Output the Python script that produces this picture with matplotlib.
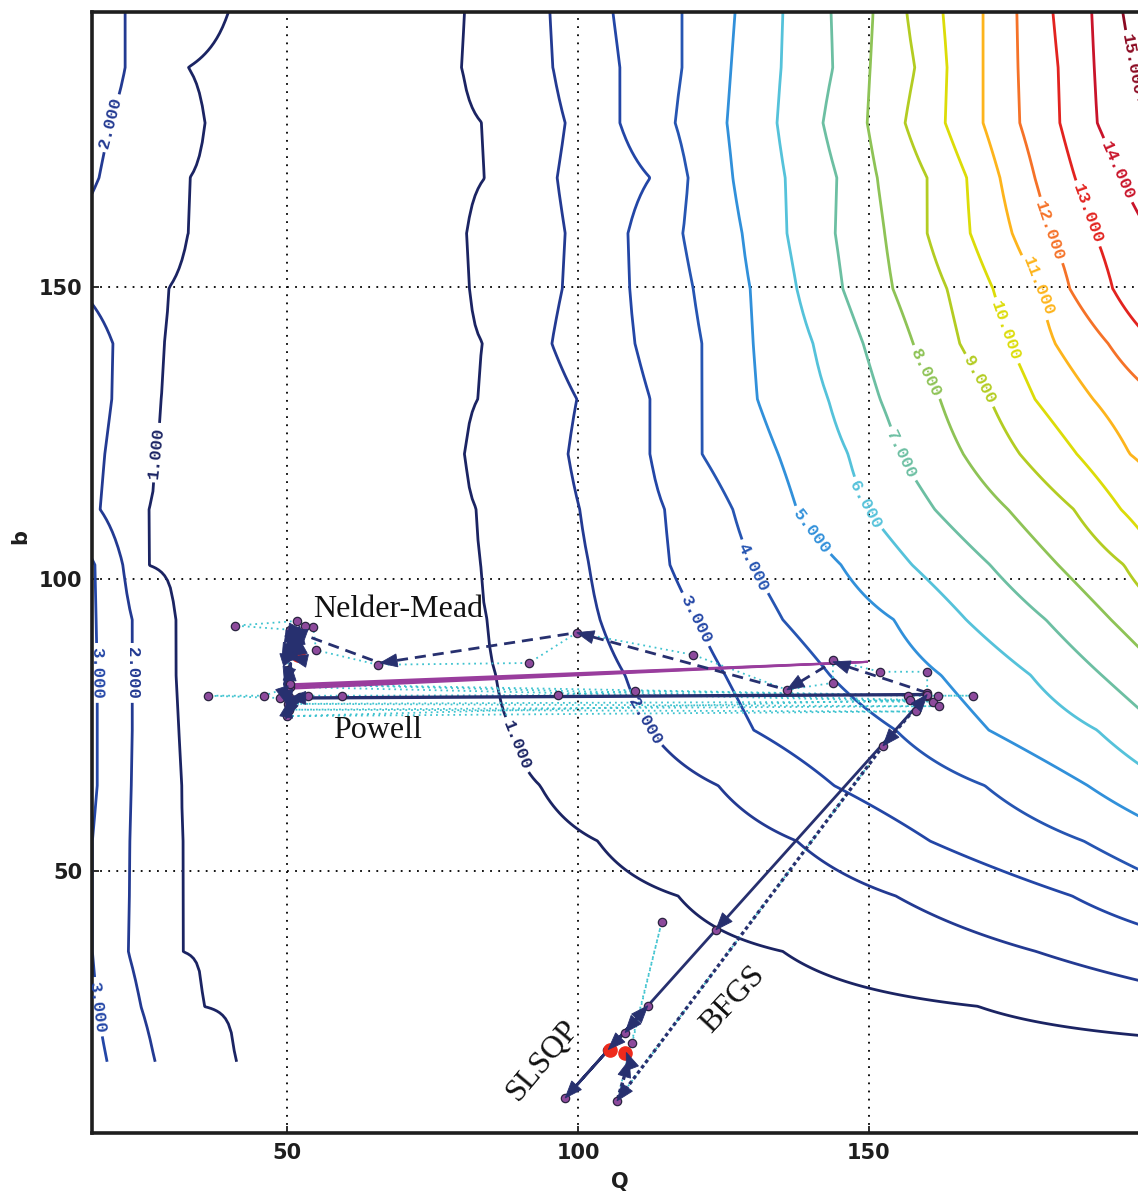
import numpy as np
import matplotlib
matplotlib.use("Agg")
import matplotlib.pyplot as plt
from matplotlib.patches import Polygon

nan = np.nan

# ---------------------------------------------------------------------------
# Objective surface, stored row by row: for each b row, the Q position where
# the surface crosses each contour level (nan = level not reached in view),
# plus the surface value at the left (Q=16.5) and right (Q=200) borders.
# ---------------------------------------------------------------------------
b_rows = [17.3, 26.8, 36.2, 45.7, 55.1, 64.6, 74.1, 83.5, 93.0, 102.4,
          111.9, 121.4, 130.8, 140.3, 149.7, 159.2, 168.7, 178.1, 187.6, 197.0]

q_border = [16.5, 200.0]
z_left = [3.3, 3.15, 3.01, 3.01, 3.01, 3.15, 3.15, 3.15, 3.12, 3.1,
          2.17, 2.26, 2.4, 2.4, 1.85, 1.8, 2.08, 2.2, 2.5, 2.3]
z_right = [0.5, 1.63, 2.6, 3.7, 4.7, 5.85, 6.95, 7.9, 8.75, 9.9,
           10.75, 11.35, 11.98, 13.1, 14.4, 14.2, 14.8, 15.3, 15.8, 16.0]
z_valley = 0.4

# low-Q flank (levels 3, 2, 1)
q_left_3 = [19.1, 17.4, 16.55, 16.55, 16.55, 17.4, 17.4, 17.4, 17.2, 17.0,
            nan, nan, nan, nan, nan, nan, nan, nan, nan, nan]
q_left_2 = [27.3, 24.9, 22.7, 22.9, 23.0, 23.2, 23.4, 23.4, 23.4, 21.8,
            17.9, 18.7, 19.9, 20.1, nan, nan, 17.7, 19.6, 22.2, 22.2]
q_left_1 = [41.1, 35.6, 32.0, 32.0, 32.0, 31.8, 31.3, 30.9, 30.8, 26.1,
            26.1, 27.3, 28.2, 28.9, 29.6, 33.0, 33.3, 35.9, 33.0, 39.9]

# high-Q flank (levels 1 .. 15)
q_right_1 = [nan, 168.7, 135.2, 117.2, 103.4, 93.5, 88.7, 85.9, 84.4, 83.3,
             82.6, 80.6, 82.8, 83.7, 81.4, 80.9, 84.0, 83.5, 80.1, 80.6]
q_right_2 = [nan, nan, 178.7, 154.6, 137.6, 124.1, 112.4, 108.1, 103.8, 101.9,
             100.3, 98.3, 99.8, 95.5, 97.3, 97.8, 96.4, 97.8, 95.7, 95.2]
q_right_3 = [nan, nan, nan, 184.9, 160.5, 144.0, 130.2, 125.3, 120.4, 115.8,
             114.9, 112.4, 112.4, 109.8, 108.9, 108.6, 112.4, 107.2, 107.2, 106.0]
q_right_4 = [nan, nan, nan, nan, 186.9, 169.9, 154.6, 143.3, 135.2, 129.9,
             126.6, 121.3, 121.3, 121.3, 119.8, 118.0, 118.9, 116.7, 117.9, 117.9]
q_right_5 = [nan, nan, nan, nan, nan, 187.6, 170.6, 162.4, 154.3, 145.2,
             137.6, 134.4, 130.8, 130.1, 129.6, 128.2, 126.6, 125.6, 126.3, 127.0]
q_right_6 = [nan, nan, nan, nan, nan, nan, 189.2, 177.8, 166.7, 157.4,
             149.7, 146.4, 143.0, 140.4, 137.6, 135.9, 135.6, 134.2, 134.9, 135.2]
q_right_7 = [nan, nan, nan, nan, nan, nan, nan, 190.0, 180.4, 170.8,
             161.3, 155.3, 151.9, 149.0, 145.5, 144.2, 144.5, 142.1, 143.8, 143.5]
q_right_8 = [nan, nan, nan, nan, nan, nan, nan, nan, 191.6, 182.5,
             173.9, 166.2, 162.2, 157.6, 154.1, 152.7, 151.4, 149.7, 150.2, 150.7]
q_right_9 = [nan, nan, nan, nan, nan, nan, nan, nan, nan, 193.8,
             185.2, 175.9, 170.8, 165.6, 163.4, 160.0, 160.0, 156.2, 157.9, 156.5]
q_right_10 = [nan, nan, nan, nan, nan, nan, nan, nan, nan, nan,
              193.3, 185.7, 178.5, 174.2, 171.3, 167.4, 166.8, 163.1, 163.4, 162.7]
q_right_11 = [nan, nan, nan, nan, nan, nan, nan, nan, nan, nan,
              nan, 194.8, 188.5, 182.0, 179.4, 174.6, 172.5, 169.6, 169.6, 169.6]
q_right_12 = [nan, nan, nan, nan, nan, nan, nan, nan, nan, nan,
              nan, nan, nan, 191.1, 184.5, 181.1, 178.5, 175.9, 175.6, 175.4]
q_right_13 = [nan, nan, nan, nan, nan, nan, nan, nan, nan, nan,
              nan, nan, nan, nan, 191.9, 188.8, 185.4, 182.8, 182.5, 181.6]
q_right_14 = [nan, nan, nan, nan, nan, nan, nan, nan, nan, nan,
              nan, nan, nan, nan, nan, nan, 193.1, 189.2, 188.7, 188.3]
q_right_15 = [nan, nan, nan, nan, nan, nan, nan, nan, nan, nan,
              nan, nan, nan, nan, nan, nan, nan, nan, 195.2, 193.6]

levels = list(range(1, 16))
level_colors = ["#1b2463", "#233a92", "#2346a6", "#2655b2", "#3190da",
                "#55c2da", "#6cbfa2", "#8ec356", "#b3cc22", "#dcdc08",
                "#fdb41c", "#f57228", "#e2231f", "#c9142a", "#8b0a22"]

# contour label anchors (Q, b)
label_spots = [(27.8, 121.6), (89.5, 71.6),
               (19.1, 178.3), (23.5, 83.9), (112.4, 76.2),
               (17.4, 83.9), (17.4, 26.7), (120.1, 93.0),
               (130.1, 102.0), (140.4, 108.4), (149.3, 112.7),
               (155.3, 121.2), (158.8, 134.9), (169.1, 134.1),
               (175.1, 143.0), (179.4, 150.3), (181.6, 159.8),
               (189.3, 163.2), (192.8, 170.0), (194.0, 187.9)]

# ---------------------------------------------------------------------------
# Optimiser traces (Q, b)
# ---------------------------------------------------------------------------
nm_q = [160.0, 143.8, 135.9, 99.8, 66.0, 50.5, 53.2, 49.6, 52.6, 50.0, 53.0,
        49.8, 52.2, 50.4, 52.4, 50.6, 51.9]
nm_b = [80.5, 85.8, 81.0, 90.8, 85.6, 91.3, 91.0, 90.2, 89.8, 89.0, 88.9,
        88.0, 87.8, 86.8, 86.2, 86.6, 87.0]

powell_q = [160.0, 50.3, 50.6, 49.6, 50.6, 49.8, 50.4, 49.4, 50.0]
powell_b = [80.2, 79.6, 85.5, 82.0, 78.0, 76.0, 79.2, 80.5, 78.6]

bfgs_q = [157.8, 160.0, 152.4, 106.7, 108.8, 108.3]
bfgs_b = [77.6, 80.2, 71.4, 10.6, 17.6, 18.9]

slsqp_q = [160.0, 123.7, 97.8, 112.0, 108.1, 105.2]
slsqp_b = [80.2, 39.9, 11.1, 26.9, 22.3, 19.4]

# function evaluations
nm_eval_q = [160.0, 160.0, 151.9, 143.8, 143.8, 135.9, 119.8, 99.8, 91.6,
             65.6, 55.0, 54.5, 53.1, 51.7, 41.1, 50.5, 50.2]
nm_eval_b = [80.5, 84.1, 84.1, 86.1, 82.2, 81.0, 87.0, 90.8, 85.6,
             85.3, 87.8, 91.8, 92.0, 92.8, 92.0, 91.3, 84.4]

powell_eval_q = [160.0, 167.9, 156.7, 109.8, 96.6, 59.5, 53.6, 52.2, 50.3, 48.8,
                 36.4, 46.0, 50.6, 161.0, 50.2, 162.0, 50.4, 158.0, 50.0, 157.0, 50.5, 161.9]
powell_eval_b = [80.0, 80.0, 80.0, 80.8, 80.1, 80.0, 80.0, 79.8, 79.8, 79.6,
                 80.0, 80.0, 81.5, 79.0, 78.6, 78.2, 77.6, 77.3, 76.5, 79.3, 82.0, 80.0]

bfgs_eval_q = [160.0, 152.4, 106.7, 114.4, 109.3, 108.2]
bfgs_eval_b = [80.2, 71.4, 10.6, 41.3, 20.5, 18.9]

slsqp_eval_q = [123.7, 97.8, 112.0, 108.1, 105.0]
slsqp_eval_b = [39.9, 11.1, 26.9, 22.3, 19.4]

# direction-set lines
dir_start_q = [50.6, 50.6, 50.6, 50.6]
dir_start_b = [81.2, 81.45, 81.7, 81.95]
dir_end_q = [149.8, 149.8, 149.8, 149.8]
dir_end_b = [85.8, 85.8, 85.8, 85.8]

final_q = [51.9, 105.5, 108.1]
final_b = [87.0, 19.3, 18.8]

# ---------------------------------------------------------------------------
q_right = [q_right_1, q_right_2, q_right_3, q_right_4, q_right_5, q_right_6,
           q_right_7, q_right_8, q_right_9, q_right_10, q_right_11, q_right_12,
           q_right_13, q_right_14, q_right_15]
q_left = [(3, q_left_3), (2, q_left_2), (1, q_left_1)]

q_grid = np.linspace(q_border[0], q_border[1], 369)
Z = np.empty((len(b_rows), q_grid.size))
for k in range(len(b_rows)):
    kq, kz = [q_border[0]], [z_left[k]]
    for lvl, arr in q_left:
        if not np.isnan(arr[k]):
            kq.append(arr[k]); kz.append(lvl)
    first_right = q_right_1[k] if not np.isnan(q_right_1[k]) else q_border[1]
    kq.append(0.5 * (q_left_1[k] + first_right)); kz.append(z_valley)
    for lvl, arr in enumerate(q_right, start=1):
        if not np.isnan(arr[k]):
            kq.append(arr[k]); kz.append(lvl)
    kq.append(q_border[1]); kz.append(z_right[k])
    Z[k] = np.interp(q_grid, kq, kz)

# ---------------------------------------------------------------------------
W, H = 1138, 1195
fig = plt.figure(figsize=(W / 100, H / 100), dpi=100, facecolor="white")
ax = fig.add_axes([92 / W, (H - 1133) / H, (1160 - 92) / W, (1133 - 12) / H])
ax.set_xlim(16.5, 200.0)
ax.set_ylim(5.1, 197.1)

cs = ax.contour(q_grid, b_rows, Z, levels=levels, colors=level_colors,
                linewidths=2.0, zorder=2)
with plt.rc_context({"font.family": ["Liberation Mono", "DejaVu Sans Mono"],
                     "font.weight": "bold"}):
    cs.clabel(manual=label_spots, fmt="%1.3f", fontsize=12.5,
              inline=True, inline_spacing=4)

ax.set_xticks([50, 100, 150])
ax.set_yticks([50, 100, 150])
ax.grid(True, color="black", linestyle=(0, (1, 3.5)), linewidth=1.3, zorder=1)
ax.tick_params(direction="in", length=5, width=1.3, pad=7, labelsize=15,
               colors="#1e1e1e")
for t in ax.get_xticklabels() + ax.get_yticklabels():
    t.set_fontweight("bold")
for side in ("left", "bottom", "top"):
    ax.spines[side].set_linewidth(2.6)
    ax.spines[side].set_color("#1e1e1e")
ax.spines["right"].set_visible(False)

ax.set_xlabel("Q", fontsize=15, fontweight="bold", color="#1e1e1e")
ax.set_ylabel("b", fontsize=15, fontweight="bold", color="#1e1e1e")
ax.xaxis.set_label_coords((620 - 92) / 1068, (1133 - 1172) / 1121)
ax.yaxis.set_label_coords((30 - 92) / 1068, (1133 - 537) / 1121)

navy = "#27306f"
cyan = "#3fc3cf"
purple = "#8d4a9c"

# evaluation trails
for eq, eb in ((nm_eval_q, nm_eval_b), (powell_eval_q, powell_eval_b),
               (bfgs_eval_q, bfgs_eval_b)):
    ax.plot(eq, eb, color=cyan, lw=1.3, ls=(0, (1, 2.2)), zorder=3)

# direction-set lines
for q0, b0, q1, b1 in zip(dir_start_q, dir_start_b, dir_end_q, dir_end_b):
    ax.plot([q0, q1], [b0, b1], color="#993d9d", lw=1.5, zorder=3.5,
            solid_capstyle="butt")

# optimiser paths
ax.plot(nm_q, nm_b, color=navy, lw=2.0, ls=(0, (4, 2.5)), zorder=4)
ax.plot(powell_q, powell_b, color=navy, lw=2.4, zorder=4)
ax.plot(bfgs_q, bfgs_b, color=navy, lw=2.4, ls=(0, (1.1, 0.9)), zorder=4)
ax.plot(slsqp_q, slsqp_b, color=navy, lw=2.0, zorder=4)


def arrow_heads(qs, bs, length=17.0, width=13.0):
    pts = ax.transData.transform(np.column_stack([qs, bs]))
    inv = ax.transData.inverted()
    for p0, p1 in zip(pts[:-1], pts[1:]):
        d = p1 - p0
        n = np.hypot(d[0], d[1])
        if n == 0:
            continue
        u = d / n
        v = np.array([-u[1], u[0]])
        base = p1 - u * length
        tri = np.array([p1, base + v * width / 2, base - v * width / 2])
        ax.add_patch(Polygon(inv.transform(tri), closed=True, facecolor=navy,
                             edgecolor=navy, lw=0.6, zorder=6))


# evaluation points
all_eval_q = nm_eval_q + powell_eval_q + bfgs_eval_q + slsqp_eval_q
all_eval_b = nm_eval_b + powell_eval_b + bfgs_eval_b + slsqp_eval_b
ax.plot(all_eval_q, all_eval_b, ls="none", marker="o", ms=6.0, mfc=purple,
        mec="#2a2440", mew=0.9, zorder=5)

ax.plot(final_q, final_b, ls="none", marker="o", ms=9.5, mfc="#ee2a1c",
        mec="#ee2a1c", zorder=5.5)

for pq, pb in ((nm_q, nm_b), (powell_q, powell_b), (bfgs_q, bfgs_b),
               (slsqp_q, slsqp_b)):
    arrow_heads(pq, pb)

serif = ["Liberation Serif", "DejaVu Serif"]
ax.text(54.5, 93.5, "Nelder-Mead", family=serif, fontsize=23, ha="left",
        va="baseline", color="#111111", zorder=8)
ax.text(57.9, 72.8, "Powell", family=serif, fontsize=23, ha="left",
        va="baseline", color="#111111", zorder=8)
ax.text(94.0, 17.6, "SLSQP", family=serif, fontsize=23, ha="center",
        va="center", rotation=50, rotation_mode="anchor", color="#111111", zorder=8)
ax.text(126.6, 27.9, "BFGS", family=serif, fontsize=23, ha="center",
        va="center", rotation=47, rotation_mode="anchor", color="#111111", zorder=8)

fig.savefig("out.png", dpi=100, facecolor="white")
